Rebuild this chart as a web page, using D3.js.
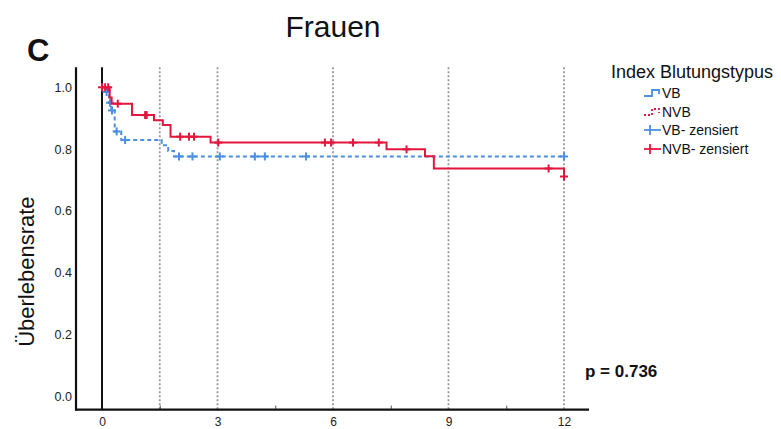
<!DOCTYPE html>
<html>
<head>
<meta charset="utf-8">
<script src="https://cdn.jsdelivr.net/npm/d3@7"></script>
<style>
  html, body { margin: 0; padding: 0; background: #fff; }
  svg { display: block; font-family: "Liberation Sans", Arial, Helvetica, sans-serif; }
</style>
</head>
<body>
<svg id="chart" width="781" height="429"></svg>
<script>
// Kaplan-Meier survival, women, by index bleeding type
const xTicks = [0, 3, 6, 9, 12];
const xMinorTicks = [1.5, 4.5, 7.5, 10.5];
const refLines = [1.5, 3, 6, 9, 12];
const yTicks = [0, 0.2, 0.4, 0.6, 0.8, 1.0];

// VB: event times and survival after each event
const vbTimes = [0.1, 0.18, 0.24, 0.33, 0.5, 1.55, 1.72, 1.87];
const vbSurv  = [0.985, 0.95, 0.925, 0.857, 0.829, 0.812, 0.794, 0.776];
const vbCensored = [0.12, 0.21, 0.26, 0.38, 0.6, 2.0, 2.35, 3.06, 3.97, 4.23, 5.3, 12.0];
const vbEnd = 12.0;

// NVB: event times and survival after each event
const nvbTimes = [0.2, 0.25, 0.78, 1.35, 1.58, 1.78, 2.82, 7.39, 8.39, 8.62, 12.0];
const nvbSurv  = [0.967, 0.947, 0.910, 0.893, 0.878, 0.840, 0.821, 0.799, 0.777, 0.737, 0.711];
const nvbCensored = [0.0, 0.08, 0.16, 0.41, 1.12, 1.16, 2.03, 2.26, 2.39, 3.02, 5.79, 5.95, 6.52, 7.19, 7.91, 11.6, 12.0];
const nvbEnd = 12.0;

const legendLabels = ["VB", "NVB", "VB- zensiert", "NVB- zensiert"];
const pValueText = "p = 0.736";

const blue = "#4a8fe0";
const red = "#e3173e";

const svg = d3.select("#chart");

const x = d3.scaleLinear().domain([0, 12]).range([102, 564]);
const y = d3.scaleLinear().domain([0, 1]).range([396, 87.3]);

// frame extents in data units
const xFrame = [-0.675, 12.65];
const yFrame = [-0.044, 1.065];

// title and panel letter
svg.append("text")
  .attr("x", 333).attr("y", 37)
  .attr("text-anchor", "middle")
  .attr("font-size", 30)
  .attr("fill", "#111")
  .text("Frauen");

svg.append("text")
  .attr("x", 27).attr("y", 61)
  .attr("font-size", 31)
  .attr("font-weight", "bold")
  .attr("fill", "#111")
  .text("C");

// dotted reference lines
svg.append("g").selectAll("line")
  .data(refLines)
  .join("line")
  .attr("x1", d => x(d)).attr("x2", d => x(d))
  .attr("y1", y(yFrame[1])).attr("y2", y(yFrame[0]))
  .attr("stroke", "#999")
  .attr("stroke-width", 1.8)
  .attr("stroke-dasharray", "2,2");

// vertical line at time 0
svg.append("line")
  .attr("x1", x(0)).attr("x2", x(0))
  .attr("y1", y(yFrame[1])).attr("y2", y(yFrame[0]))
  .attr("stroke", "#111")
  .attr("stroke-width", 2);

// axes
const xAxisY = y(yFrame[0]);
const gx = svg.append("g")
  .attr("transform", `translate(0,${xAxisY})`)
  .call(d3.axisBottom(x).tickValues(xTicks).tickSize(0).tickPadding(8));
gx.select(".domain").remove();
gx.selectAll("text").attr("font-size", 12).attr("fill", "#222")
  .attr("font-family", "Liberation Sans, Arial, sans-serif");

const gxm = svg.append("g")
  .attr("transform", `translate(0,${xAxisY})`)
  .call(d3.axisBottom(x).tickValues(xMinorTicks).tickSize(-4).tickFormat(""));
gxm.select(".domain").remove();
gxm.selectAll("line").attr("stroke", "#555").attr("stroke-width", 1);

svg.append("line")
  .attr("x1", x(xFrame[0]) - 1).attr("x2", x(xFrame[1]))
  .attr("y1", xAxisY).attr("y2", xAxisY)
  .attr("stroke", "#111").attr("stroke-width", 2.2);

const gy = svg.append("g")
  .attr("transform", `translate(${x(xFrame[0])},0)`)
  .call(d3.axisLeft(y).tickValues(yTicks).tickFormat(d3.format(".1f")).tickSize(0).tickPadding(4));
gy.select(".domain").remove();
gy.selectAll("text").attr("font-size", 12.5).attr("fill", "#222")
  .attr("font-family", "Liberation Sans, Arial, sans-serif");

svg.append("line")
  .attr("x1", x(xFrame[0])).attr("x2", x(xFrame[0]))
  .attr("y1", y(yFrame[1])).attr("y2", xAxisY + 1)
  .attr("stroke", "#111").attr("stroke-width", 2.2);

// y axis title
svg.append("text")
  .attr("transform", `translate(34,${(y(0) + y(1)) / 2 + 30}) rotate(-90)`)
  .attr("text-anchor", "middle")
  .attr("font-size", 22)
  .attr("fill", "#111")
  .text("Überlebensrate");

// step curves
function stepPoints(times, surv, end) {
  const pts = [[0, 1]];
  times.forEach((t, i) => pts.push([t, surv[i]]));
  pts.push([end, surv[surv.length - 1]]);
  return pts;
}
function survivalAt(times, surv, t) {
  let s = 1;
  times.forEach((tt, i) => { if (tt <= t) s = surv[i]; });
  return s;
}
const stepLine = d3.line()
  .x(d => x(d[0]))
  .y(d => y(d[1]))
  .curve(d3.curveStepAfter);

const series = [
  { times: vbTimes, surv: vbSurv, cens: vbCensored, end: vbEnd, color: blue, dash: "4,3" },
  { times: nvbTimes, surv: nvbSurv, cens: nvbCensored, end: nvbEnd, color: red, dash: null }
];

const cross = 4;
series.forEach(s => {
  svg.append("path")
    .attr("d", stepLine(stepPoints(s.times, s.surv, s.end)))
    .attr("fill", "none")
    .attr("stroke", s.color)
    .attr("stroke-width", 2)
    .attr("stroke-dasharray", s.dash);

  const g = svg.append("g").attr("stroke", s.color).attr("stroke-width", 2);
  s.cens.forEach(t => {
    const cx = x(t), cy = y(survivalAt(s.times, s.surv, t));
    g.append("line").attr("x1", cx - cross).attr("x2", cx + cross).attr("y1", cy).attr("y2", cy);
    g.append("line").attr("x1", cx).attr("x2", cx).attr("y1", cy - cross).attr("y2", cy + cross);
  });
});

// p value
svg.append("text")
  .attr("x", 585).attr("y", 377)
  .attr("font-size", 17)
  .attr("font-weight", "bold")
  .attr("fill", "#111")
  .text(pValueText);

// legend
const lg = svg.append("g").attr("transform", "translate(611,0)");
lg.append("text")
  .attr("x", 0).attr("y", 78)
  .attr("font-size", 18)
  .attr("fill", "#111")
  .text("Index Blutungstypus");

const rowY = [93, 112, 130, 149];
const symX = 33;
const stepShape = (yy) => `M${symX},${yy + 3}H${symX + 8}V${yy - 3}H${symX + 15}V${yy + 1}`;
lg.append("path").attr("d", stepShape(rowY[0])).attr("fill", "none")
  .attr("stroke", blue).attr("stroke-width", 1.8);
lg.append("path").attr("d", stepShape(rowY[1])).attr("fill", "none")
  .attr("stroke", red).attr("stroke-width", 1.8).attr("stroke-dasharray", "2,2");
[[rowY[2], blue], [rowY[3], red]].forEach(([yy, c]) => {
  lg.append("line").attr("x1", symX).attr("x2", symX + 17).attr("y1", yy).attr("y2", yy)
    .attr("stroke", c).attr("stroke-width", 1.8);
  lg.append("line").attr("x1", symX + 6).attr("x2", symX + 6).attr("y1", yy - 5).attr("y2", yy + 5)
    .attr("stroke", c).attr("stroke-width", 1.8);
});
lg.selectAll("text.item")
  .data(legendLabels)
  .join("text")
  .attr("class", "item")
  .attr("x", 51)
  .attr("y", (d, i) => rowY[i] + 5)
  .attr("font-size", 14)
  .attr("fill", "#111")
  .text(d => d);
</script>
</body>
</html>
